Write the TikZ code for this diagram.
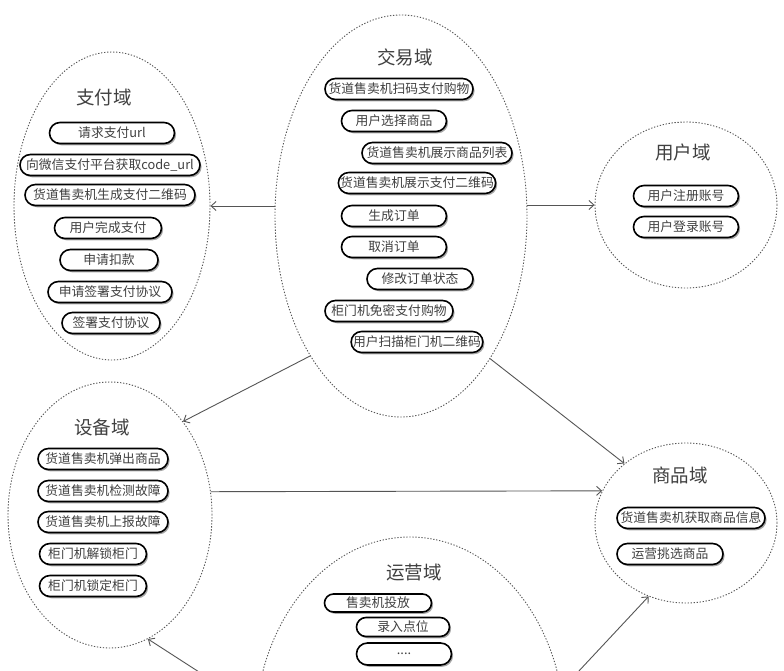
\documentclass[tikz,border=0pt]{standalone}
\usepackage{fontspec}
\setmainfont{Noto Sans CJK SC}
\usetikzlibrary{shapes.geometric,shapes.misc,shadows,arrows.meta}
\definecolor{inkgray}{HTML}{404040}
\definecolor{linegray}{HTML}{555555}
\tikzset{
  domainbox/.style={ellipse, draw=linegray, line width=0.9pt,
    dash pattern=on 1.3pt off 1.7pt, inner sep=0pt},
  domtitle/.style={font=\fontsize{18.5}{20}\selectfont, text=inkgray, inner sep=0pt},
  pill/.style={rounded rectangle, draw=black, line width=1.6pt, fill=white,
    minimum height=21pt, inner sep=0pt, text=inkgray,
    font=\fontsize{12.8}{13}\selectfont,
    drop shadow={shadow xshift=1.6pt, shadow yshift=-1.8pt, opacity=0.35, fill=black}},
  flow/.style={draw=linegray, line width=0.9pt,
    -{Straight Barb[length=5pt,width=9pt]}}
}
\begin{document}
\begin{tikzpicture}[x=1pt,y=-1pt]
\useasboundingbox (0,0) rectangle (784,671);
\clip (0,0) rectangle (784,671);
\fill[white] (0,0) rectangle (784,671);

% domain outlines
\node[domainbox, minimum width=196pt, minimum height=308pt] (pay)    at (112,206) {};
\node[domainbox, minimum width=252pt, minimum height=402pt] (trade)  at (401,216) {};
\node[domainbox, minimum width=182pt, minimum height=166pt] (user)   at (686,205) {};
\node[domainbox, minimum width=204pt, minimum height=266pt] (device) at (110,515) {};
\node[domainbox, minimum width=182pt, minimum height=160pt] (goods)  at (686,523) {};
\node[domainbox, minimum width=310pt, minimum height=392pt] (ops)    at (410,733) {};

% titles
\node[domtitle] (payT)    at (104,97)  {支付域};
\node[domtitle] (tradeT)  at (405,57)  {交易域};
\node[domtitle] (userT)   at (683,152) {用户域};
\node[domtitle] (deviceT) at (102,427) {设备域};
\node[domtitle] (goodsT)  at (680,475) {商品域};
\node[domtitle] (opsT)    at (414,573) {运营域};

% payment
\node[pill, minimum width=125pt] (p1) at (112,133) {请求支付url};
\node[pill, minimum width=180pt] (p2) at (110,165) {向微信支付平台获取code\_url};
\node[pill, minimum width=170pt] (p3) at (110,195) {货道售卖机生成支付二维码};
\node[pill, minimum width=107pt] (p4) at (108,228) {用户完成支付};
\node[pill, minimum width=98pt]  (p5) at (109,260) {申请扣款};
\node[pill, minimum width=124pt] (p6) at (110,292) {申请签署支付协议};
\node[pill, minimum width=98pt]  (p7) at (111,323) {签署支付协议};

% trade
\node[pill, minimum width=148pt] (t1) at (399,89)  {货道售卖机扫码支付购物};
\node[pill, minimum width=105pt] (t2) at (394,121) {用户选择商品};
\node[pill, minimum width=150pt] (t3) at (437,153) {货道售卖机展示商品列表};
\node[pill, minimum width=157pt] (t4) at (417,183) {货道售卖机展示支付二维码};
\node[pill, minimum width=105pt] (t5) at (394,216) {生成订单};
\node[pill, minimum width=105pt] (t6) at (394,247) {取消订单};
\node[pill, minimum width=106pt] (t7) at (420,279) {修改订单状态};
\node[pill, minimum width=128pt] (t8) at (389,311) {柜门机免密支付购物};
\node[pill, minimum width=131pt] (t9) at (417,342) {用户扫描柜门机二维码};

% user
\node[pill, minimum width=105pt] (u1) at (686,196) {用户注册账号};
\node[pill, minimum width=105pt] (u2) at (686,227) {用户登录账号};

% device
\node[pill, minimum width=130pt] (d1) at (103,459) {货道售卖机弹出商品};
\node[pill, minimum width=130pt] (d2) at (103,491) {货道售卖机检测故障};
\node[pill, minimum width=130pt] (d3) at (103,522) {货道售卖机上报故障};
\node[pill, minimum width=107pt] (d4) at (93,554)  {柜门机解锁柜门};
\node[pill, minimum width=107pt] (d5) at (93,586)  {柜门机锁定柜门};

% goods
\node[pill, minimum width=148pt] (g1) at (691,518) {货道售卖机获取商品信息};
\node[pill, minimum width=106pt] (g2) at (670,554) {运营挑选商品};

% operations
\node[pill, minimum width=107pt, minimum height=18pt] (o1) at (378,603) {售卖机投放};
\node[pill, minimum width=93pt,  minimum height=19pt] (o2) at (403,627) {录入点位};
\node[pill, minimum width=95pt,  minimum height=22pt] (o3) at (404,654) {....};

% dependencies between domains
\draw[flow] (trade.west |- pay.east) -- (pay.east);
\draw[flow] (trade.east |- user.west) -- (user.west);
\draw[flow] (trade.237) -- (device.52);
\draw[flow] (trade.302) -- (goods.136);
\draw[flow] (device.13.5) -- (goods.159);
\draw[flow] (ops.171) -- (device.287.6);
\draw[flow] (ops.16.6) -- (goods.243.7);
\end{tikzpicture}
\end{document}
